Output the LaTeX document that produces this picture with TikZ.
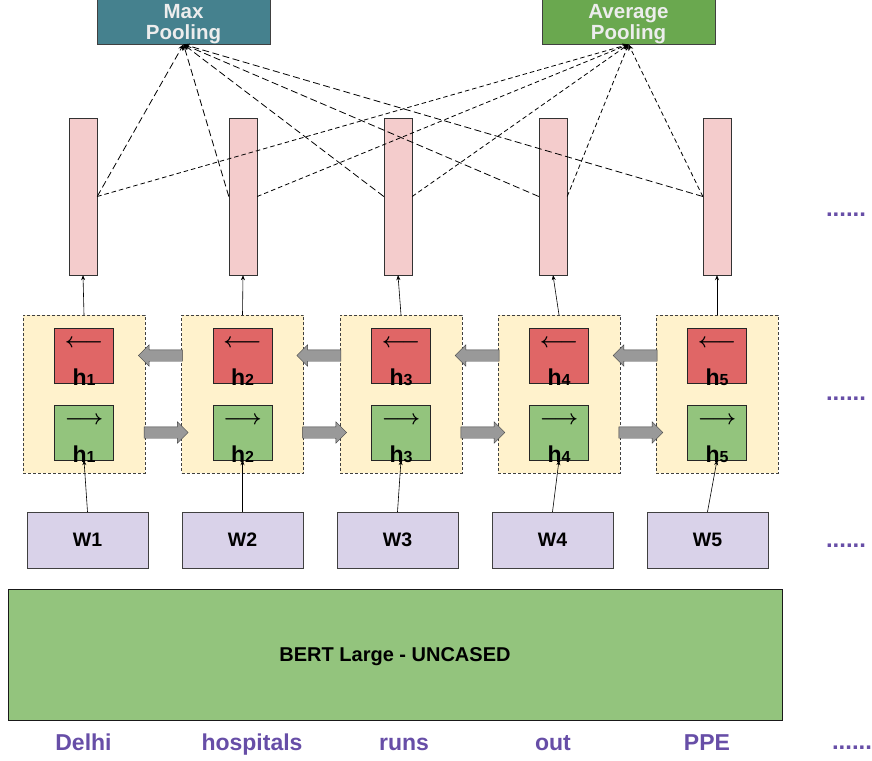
\documentclass[tikz,border=0pt]{standalone}
\usepackage{fontspec}
\setmainfont{Liberation Sans}
\usetikzlibrary{positioning,calc,arrows.meta,shapes.arrows}

\definecolor{poolteal}{HTML}{45818E}
\definecolor{poolgreen}{HTML}{6AA84F}
\definecolor{vecpink}{HTML}{F4CCCC}
\definecolor{boxyellow}{HTML}{FFF2CC}
\definecolor{bwdred}{HTML}{E06666}
\definecolor{fwdgreen}{HTML}{93C47D}
\definecolor{wlav}{HTML}{D9D2E9}
\definecolor{tokpurple}{HTML}{674EA7}

\newcommand{\hsub}[1]{{\fontsize{16}{16}\selectfont #1}}
\newcommand{\hname}[1]{{\bfseries\fontsize{23}{23}\selectfont h\hsub{#1}}}
\newcommand{\dirarr}[1]{{\fontsize{20}{20}\selectfont\boldmath$#1$}}

\tikzset{
  pool/.style={draw=black!75, minimum width=173pt, minimum height=45pt, inner sep=0pt,
    align=center, text height=42pt, text=white!93!black, font=\bfseries\fontsize{20.5}{21}\selectfont},
  vec/.style={draw=black!80, fill=vecpink, minimum width=28pt, minimum height=157pt, inner sep=0pt},
  lstm/.style={draw=black!75, dash pattern=on 3pt off 2pt, fill=boxyellow,
    minimum width=122pt, minimum height=158pt, inner sep=0pt},
  cell/.style={draw=black!85, minimum width=59pt, minimum height=55pt, inner sep=0pt},
  hlab/.style={anchor=base, yshift=-2pt, inner sep=0pt},
  arrlab/.style={anchor=center, yshift=-16pt, inner sep=0pt},
  bwd/.style={cell, fill=bwdred, label={[hlab]south:\hname{#1}}, label={[arrlab]north:\dirarr{\longleftarrow}}},
  fwd/.style={cell, fill=fwdgreen, label={[hlab]south:\hname{#1}}, label={[arrlab]north:\dirarr{\longrightarrow}}},
  flowr/.style={single arrow, draw=black!75, fill=black!40, minimum height=44pt, minimum width=21pt,
    inner sep=5.5pt, single arrow head extend=5pt},
  flowl/.style={flowr, shape border rotate=180},
  wbox/.style={draw=black!75, fill=wlav, minimum width=121pt, minimum height=56pt, inner sep=0pt,
    font=\bfseries\fontsize{19.5}{20}\selectfont},
  bert/.style={draw=black!90, fill=fwdgreen, minimum width=774pt, minimum height=131pt, inner sep=0pt,
    text depth=0pt, font=\bfseries\fontsize{20}{20}\selectfont},
  tok/.style={text=tokpurple, anchor=base, inner sep=0pt, font=\bfseries\fontsize{23}{23}\selectfont},
  dots/.style={text=tokpurple, anchor=base, inner sep=0pt, font=\bfseries\fontsize{24}{24}\selectfont},
  up/.style={line width=0.6pt, -{Stealth[length=5pt,width=4pt]}},
  maxln/.style={line width=0.8pt, dash pattern=on 7pt off 3.5pt, -{Stealth[length=6pt,width=5pt]}},
  avgln/.style={line width=0.8pt, dash pattern=on 4.5pt off 3pt, -{Stealth[length=6pt,width=5pt]}}
}

\begin{document}
\begin{tikzpicture}[x=1pt, y=-1pt]
  \useasboundingbox (0,0) rectangle (872,760);

  \node[pool, fill=poolteal]  (maxp) at (183.5,21) {Max\\Pooling};
  \node[pool, fill=poolgreen] (avgp) at (628.5,21) {Average\\Pooling};

  \node[vec] (v1) at (83,196.5)  {};
  \node[vec] (v2) at (243,196.5) {};
  \node[vec] (v3) at (398,196.5) {};
  \node[vec] (v4) at (553,196.5) {};
  \node[vec] (v5) at (717,196.5) {};

  \node[lstm] (l1) at (84,394)    {};
  \node[lstm] (l2) at (242.5,394) {};
  \node[lstm] (l3) at (401,394)   {};
  \node[lstm] (l4) at (559,394)   {};
  \node[lstm] (l5) at (717,394)   {};

  \node[bwd=1] (b1) at ([yshift=38.5pt]l1.center) {};
  \node[fwd=1] (f1) at ([yshift=-38.5pt]l1.center) {};
  \node[bwd=2] (b2) at ([yshift=38.5pt]l2.center) {};
  \node[fwd=2] (f2) at ([yshift=-38.5pt]l2.center) {};
  \node[bwd=3] (b3) at ([yshift=38.5pt]l3.center) {};
  \node[fwd=3] (f3) at ([yshift=-38.5pt]l3.center) {};
  \node[bwd=4] (b4) at ([yshift=38.5pt]l4.center) {};
  \node[fwd=4] (f4) at ([yshift=-38.5pt]l4.center) {};
  \node[bwd=5] (b5) at ([yshift=38.5pt]l5.center) {};
  \node[fwd=5] (f5) at ([yshift=-38.5pt]l5.center) {};

  \node[flowl] (bk12) at ($(l1.east |- b1)!0.5!(l2.west |- b2)$) {};
  \node[flowr] (fw12) at ($(l1.east |- f1)!0.5!(l2.west |- f2)$) {};
  \node[flowl] (bk23) at ($(l2.east |- b2)!0.5!(l3.west |- b3)$) {};
  \node[flowr] (fw23) at ($(l2.east |- f2)!0.5!(l3.west |- f3)$) {};
  \node[flowl] (bk34) at ($(l3.east |- b3)!0.5!(l4.west |- b4)$) {};
  \node[flowr] (fw34) at ($(l3.east |- f3)!0.5!(l4.west |- f4)$) {};
  \node[flowl] (bk45) at ($(l4.east |- b4)!0.5!(l5.west |- b5)$) {};
  \node[flowr] (fw45) at ($(l4.east |- f4)!0.5!(l5.west |- f5)$) {};

  \node[wbox] (w1) at (87.5,540)  {W1};
  \node[wbox] (w2) at (242.5,540) {W2};
  \node[wbox] (w3) at (397.5,540) {W3};
  \node[wbox] (w4) at (552.5,540) {W4};
  \node[wbox] (w5) at (707.5,540) {W5};

  \node[bert] (bert) at (395,654.5) {BERT Large - UNCASED};

  \node[tok] (t1) at (83.5,750) {Delhi};
  \node[tok] (t2) at (252,750)  {hospitals};
  \node[tok] (t3) at (404,750)  {runs};
  \node[tok] (t4) at (553,750)  {out};
  \node[tok] (t5) at (707,750)  {PPE};

  \node[dots] (d1) at (846,216) {......};
  \node[dots] (d2) at (846,400) {......};
  \node[dots] (d3) at (846,547) {......};
  \node[dots] (d4) at (852,749) {......};

  \draw[up] (w1.north) -- (f1.south);
  \draw[up] (w2.north) -- (f2.south);
  \draw[up] (w3.north) -- (f3.south);
  \draw[up] (w4.north) -- (f4.south);
  \draw[up] (w5.north) -- (f5.south);

  \draw[up] (l1.north) -- (v1.south);
  \draw[up] (l2.north) -- (v2.south);
  \draw[up] (l3.north) -- (v3.south);
  \draw[up] (l4.north) -- (v4.south);
  \draw[up] (l5.north) -- (v5.south);

  \draw[maxln] (v1.east) -- (maxp.south);
  \draw[maxln] (v2.west) -- (maxp.south);
  \draw[maxln] (v3.west) -- (maxp.south);
  \draw[maxln] (v4.west) -- (maxp.south);
  \draw[maxln] (v5.west) -- (maxp.south);

  \draw[avgln] (v1.east) -- (avgp.south);
  \draw[avgln] (v2.east) -- (avgp.south);
  \draw[avgln] (v3.east) -- (avgp.south);
  \draw[avgln] (v4.east) -- (avgp.south);
  \draw[avgln] (v5.west) -- (avgp.south);
\end{tikzpicture}
\end{document}
